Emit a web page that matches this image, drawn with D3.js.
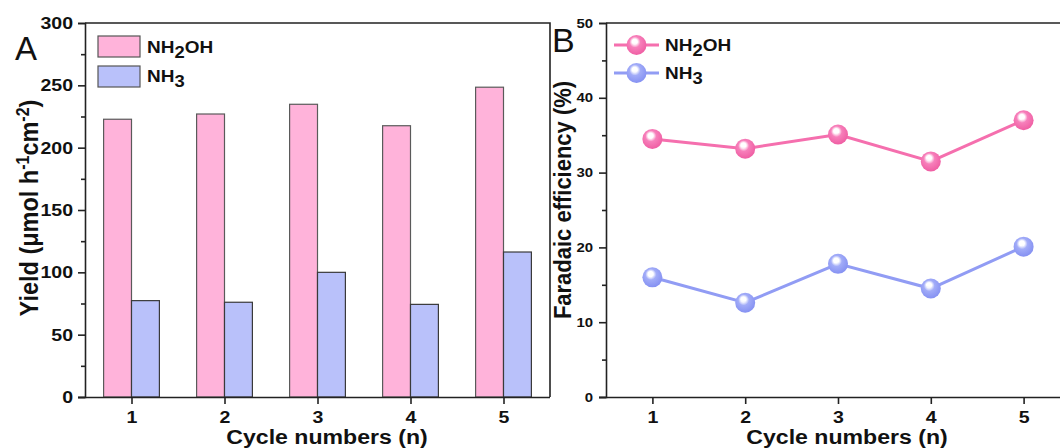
<!DOCTYPE html>
<html>
<head>
<meta charset="utf-8">
<script src="https://cdn.jsdelivr.net/npm/d3@7"></script>
<style>
  html, body { margin: 0; padding: 0; background: #fff; }
  svg { display: block; font-family: Arial, "Liberation Sans", sans-serif; }
</style>
</head>
<body>
<svg id="chart" width="1060" height="448"></svg>
<script>
// Cycle-test data
const cycles = [1, 2, 3, 4, 5];
const yieldNH2OH = [222.8, 227.0, 234.8, 217.6, 248.5];
const yieldNH3 = [77.3, 76.0, 100.0, 74.3, 116.3];
const feNH2OH = [34.5, 33.2, 35.1, 31.5, 37.0];
const feNH3 = [16.0, 12.6, 17.8, 14.5, 20.1];
const yieldTicks = [0, 50, 100, 150, 200, 250, 300];
const feTicks = [0, 10, 20, 30, 40, 50];

const pinkFill = "#ffb3da", blueFill = "#b9c1fa";
const pinkLine = "#f56fae", blueLine = "#919cf4";
const ink = "#111";
const SX = 1.15; // horizontal text widening used throughout the figure

const svg = d3.select("#chart");
const defs = svg.append("defs");

function ballGradient(id, base, dark) {
  const g = defs.append("radialGradient").attr("id", id)
    .attr("cx", "45%").attr("cy", "40%").attr("r", "60%")
    .attr("fx", "40%").attr("fy", "32%");
  g.append("stop").attr("offset", "0%").attr("stop-color", "#ffffff");
  g.append("stop").attr("offset", "22%").attr("stop-color", "#ffffff").attr("stop-opacity", 0.9);
  g.append("stop").attr("offset", "45%").attr("stop-color", base);
  g.append("stop").attr("offset", "100%").attr("stop-color", dark);
}
ballGradient("ballPink", "#f780bb", "#ef5ea3");
ballGradient("ballBlue", "#a2acf8", "#8591f2");

// widen a text element horizontally around the anchor point (x0, y0)
function widen(sel, x0, y0, s, rot) {
  sel.attr("transform", `translate(${x0},${y0}) scale(${s},1)` + (rot ? ` rotate(${rot})` : ""));
}

const plotBottom = 397, plotTop = 23;

function styleAxis(ax, size, leftPad) {
  ax.selectAll("line, path").attr("stroke", "#222").attr("stroke-width", 1.6);
  ax.selectAll("text").attr("font-size", size).attr("font-weight", "bold").attr("fill", ink)
    .attr("transform", `scale(${SX},1)`);
  if (leftPad != null) ax.selectAll("text").attr("x", -leftPad / SX);
}

// ---------- Panel A: yield bars ----------
const xA = d3.scaleLinear().domain([0.5, 5.5]).range([85, 550]);
const yA = d3.scaleLinear().domain([0, 300]).range([plotBottom, plotTop]);
const gA = svg.append("g");
const barW = 0.3;

gA.selectAll("rect.nh2oh").data(cycles).join("rect")
  .attr("x", (d) => xA(d - barW))
  .attr("width", (d) => xA(d) - xA(d - barW))
  .attr("y", (d, i) => yA(yieldNH2OH[i]))
  .attr("height", (d, i) => yA(0) - yA(yieldNH2OH[i]))
  .attr("fill", pinkFill).attr("stroke", "#5a5a5a").attr("stroke-width", 1.2);

gA.selectAll("rect.nh3").data(cycles).join("rect")
  .attr("x", (d) => xA(d))
  .attr("width", (d) => xA(d + barW) - xA(d))
  .attr("y", (d, i) => yA(yieldNH3[i]))
  .attr("height", (d, i) => yA(0) - yA(yieldNH3[i]))
  .attr("fill", blueFill).attr("stroke", "#3a3a3a").attr("stroke-width", 1.2);

// frame
gA.append("path").attr("d", `M${xA(0.5)},${plotTop}H${xA(5.5)}V${plotBottom}`)
  .attr("fill", "none").attr("stroke", "#222").attr("stroke-width", 1.6);

const axA_y = gA.append("g").attr("transform", `translate(${xA(0.5)},0)`)
  .call(d3.axisLeft(yA).tickValues(yieldTicks).tickSize(7).tickPadding(5));
const axA_minor = gA.append("g").attr("transform", `translate(${xA(0.5)},0)`)
  .call(d3.axisLeft(yA).tickValues(d3.range(25, 300, 50)).tickSize(4).tickFormat(""))
  .call((g) => g.select(".domain").remove());
const axA_x = gA.append("g").attr("transform", `translate(0,${plotBottom})`)
  .call(d3.axisBottom(xA).tickValues(cycles).tickSize(7).tickPadding(7).tickSizeOuter(0).tickFormat(d3.format("d")));
styleAxis(axA_y, 17, 12);
styleAxis(axA_minor, 17);
styleAxis(axA_x, 17);
axA_x.select(".domain").attr("d", `M${xA(0.5) - 7},0.5H${xA(5.5)}`);

gA.append("text").attr("x", 15).attr("y", 60).attr("font-size", 33).attr("fill", ink).text("A");

const yLabA = gA.append("text")
  .attr("text-anchor", "middle").attr("font-size", 23.5).attr("font-weight", "bold").attr("fill", ink);
widen(yLabA, 38, 208, 1.1, -90);
yLabA.append("tspan").text("Yield (μmol h");
yLabA.append("tspan").attr("baseline-shift", "super").attr("font-size", 16).text("-1");
yLabA.append("tspan").text("cm");
yLabA.append("tspan").attr("baseline-shift", "super").attr("font-size", 16).text("-2");
yLabA.append("tspan").text(")");

const xLabA = gA.append("text").attr("text-anchor", "middle")
  .attr("font-size", 21).attr("font-weight", "bold").attr("fill", ink).text("Cycle numbers (n)");
widen(xLabA, 327, 444, 1.1);

// legend entries with subscripted formulas
function chemLabel(g, x, y, parts) {
  const t = g.append("text").attr("font-size", 16.5)
    .attr("font-weight", "bold").attr("fill", ink);
  widen(t, x, y, SX);
  parts.forEach(([s, sub], k) => {
    const sp = t.append("tspan").text(s);
    if (sub) sp.attr("font-size", 16).attr("dy", 5);
    else if (k > 0) sp.attr("dy", -5);
  });
}
const legA = gA.append("g");
legA.append("rect").attr("x", 98).attr("y", 36).attr("width", 42).attr("height", 21)
  .attr("fill", pinkFill).attr("stroke", "#555").attr("stroke-width", 1.2);
legA.append("rect").attr("x", 98).attr("y", 66).attr("width", 42).attr("height", 21)
  .attr("fill", blueFill).attr("stroke", "#555").attr("stroke-width", 1.2);
chemLabel(legA, 147, 53, [["NH"], ["2", true], ["OH"]]);
chemLabel(legA, 147, 82, [["NH"], ["3", true]]);

// ---------- Panel B: Faradaic efficiency ----------
const xB = d3.scaleLinear().domain([0.5, 5.5]).range([606, 1070]);
const yB = d3.scaleLinear().domain([0, 50]).range([plotBottom, plotTop]);
const gB = svg.append("g");

gB.append("path").attr("d", `M${xB(0.5)},${plotTop}H1060`)
  .attr("fill", "none").attr("stroke", "#222").attr("stroke-width", 1.6);

const axB_y = gB.append("g").attr("transform", `translate(${xB(0.5)},0)`)
  .call(d3.axisLeft(yB).tickValues(feTicks).tickSize(7).tickPadding(5));
const axB_minor = gB.append("g").attr("transform", `translate(${xB(0.5)},0)`)
  .call(d3.axisLeft(yB).tickValues(d3.range(5, 50, 10)).tickSize(4).tickFormat(""))
  .call((g) => g.select(".domain").remove());
const axB_x = gB.append("g").attr("transform", `translate(0,${plotBottom})`)
  .call(d3.axisBottom(xB).tickValues(cycles).tickSize(7).tickPadding(7).tickSizeOuter(0).tickFormat(d3.format("d")));
styleAxis(axB_y, 13, 13);
styleAxis(axB_minor, 13);
styleAxis(axB_x, 17);
axB_x.select(".domain").attr("d", `M${xB(0.5) - 7},0.5H${xB(5.5)}`);

const line = d3.line().x((d) => xB(d[0])).y((d) => yB(d[1]));
const series = [
  { vals: feNH2OH, color: pinkLine, grad: "url(#ballPink)" },
  { vals: feNH3, color: blueLine, grad: "url(#ballBlue)" }
];
series.forEach((s) => {
  const pts = cycles.map((c, i) => [c, s.vals[i]]);
  gB.append("path").datum(pts).attr("d", line).attr("fill", "none")
    .attr("stroke", s.color).attr("stroke-width", 3);
  gB.selectAll(null).data(pts).join("circle")
    .attr("cx", (d) => xB(d[0])).attr("cy", (d) => yB(d[1])).attr("r", 10)
    .attr("fill", s.grad);
});

gB.append("text").attr("x", 552).attr("y", 52).attr("font-size", 34).attr("fill", ink).text("B");

const yLabB = gB.append("text")
  .attr("text-anchor", "middle").attr("font-size", 22).attr("font-weight", "bold")
  .attr("fill", ink).text("Faradaic efficiency  (%)");
widen(yLabB, 571, 200, 1.08, -90);

const xLabB = gB.append("text").attr("text-anchor", "middle")
  .attr("font-size", 21).attr("font-weight", "bold").attr("fill", ink).text("Cycle numbers (n)");
widen(xLabB, 847, 444, 1.1);

// legend B
const legB = gB.append("g");
[[45, series[0]], [73, series[1]]].forEach(([y, s]) => {
  legB.append("line").attr("x1", 614).attr("x2", 659).attr("y1", y).attr("y2", y)
    .attr("stroke", s.color).attr("stroke-width", 3);
  legB.append("circle").attr("cx", 636.5).attr("cy", y).attr("r", 10).attr("fill", s.grad);
});
chemLabel(legB, 665, 51, [["NH"], ["2", true], ["OH"]]);
chemLabel(legB, 665, 79, [["NH"], ["3", true]]);
</script>
</body>
</html>
